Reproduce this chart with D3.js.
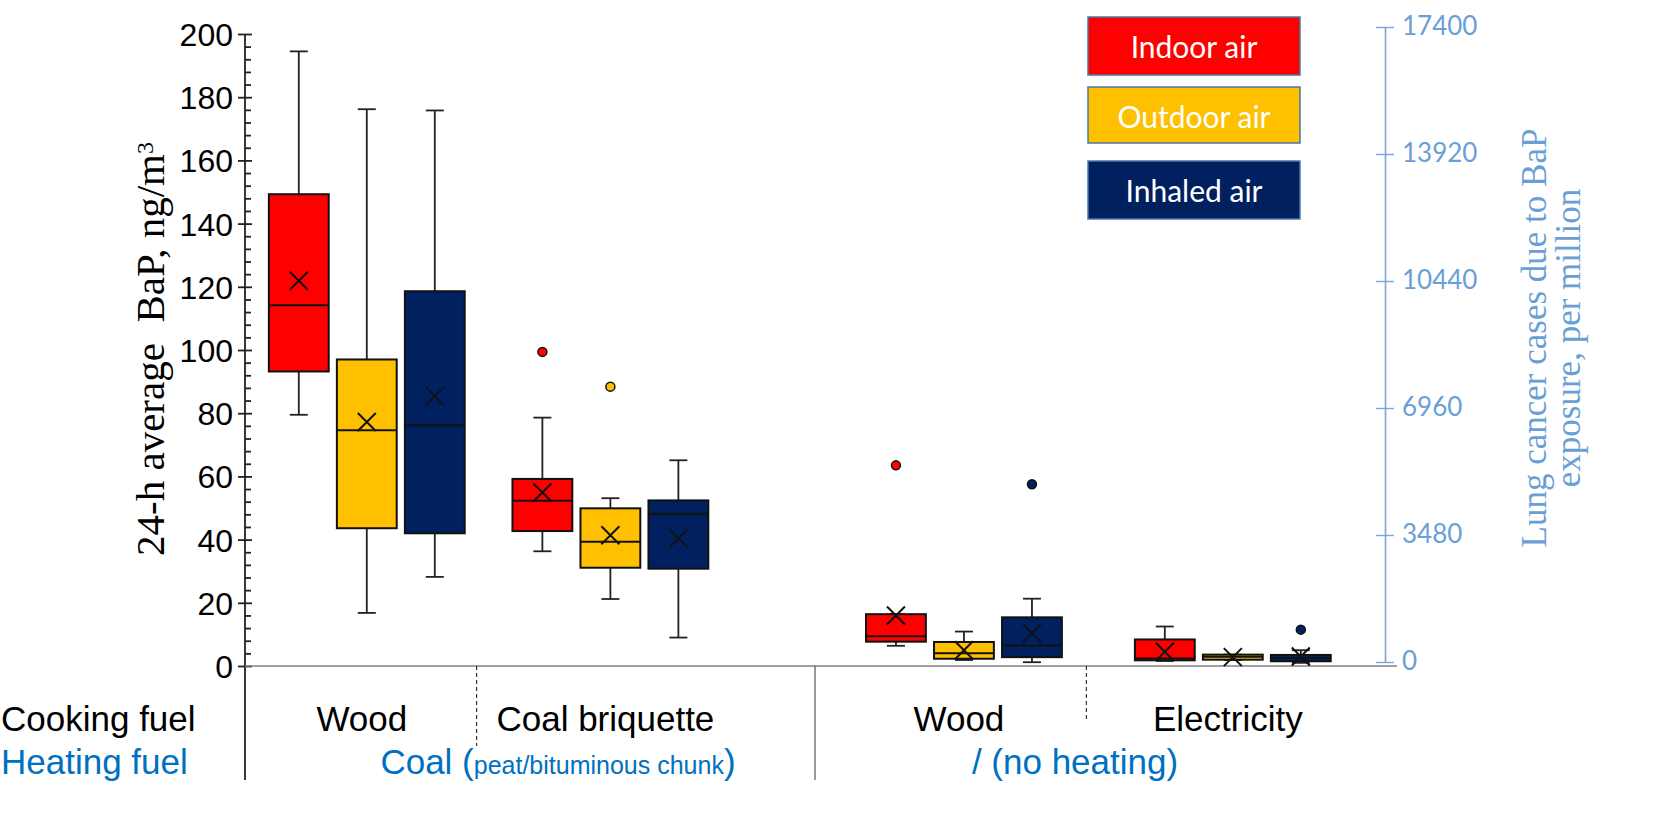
<!DOCTYPE html>
<html>
<head>
<meta charset="utf-8">
<script src="https://cdn.jsdelivr.net/npm/d3@7/dist/d3.min.js"></script>
<style>
  body { margin: 0; background: #fff; }
  svg { display: block; }
  .sans { font-family: "Liberation Sans", Arial, sans-serif; }
  .serif { font-family: "Liberation Serif", "Times New Roman", serif; }
  .cal { font-family: Lato, "Open Sans", sans-serif; }
</style>
</head>
<body>
<svg id="chart"></svg>
<script>
// ---- data ----
const heatingFuels = ["Coal", "None"];
const heatingLabels = ["Coal", "/ (no heating)"];
const cookingFuels = [["Wood", "Coal briquette"], ["Wood", "Electricity"]];
const series = ["Indoor air", "Outdoor air", "Inhaled air"];
const seriesColors = ["#ff0000", "#ffc000", "#002060"];

// one entry per box: [heating, cooking] x series, in order
const boxGroups = ["Coal|Wood", "Coal|Wood", "Coal|Wood",
  "Coal|Coal briquette", "Coal|Coal briquette", "Coal|Coal briquette",
  "None|Wood", "None|Wood", "None|Wood",
  "None|Electricity", "None|Electricity", "None|Electricity"];
const lowWhisker  = [79.5, 16.8, 28.2, 36.3, 21.2, 9.0, 6.4, 1.9, 1.2, 1.6, 1.9, 1.0];
const q1Values    = [93.2, 43.6, 42.0, 42.7, 31.1, 30.8, 7.7, 2.3, 2.8, 1.8, 2.0, 1.5];
const medianVals  = [114.2, 74.6, 76.2, 52.3, 39.3, 48.2, 9.4, 4.0, 6.5, 2.4, 2.9, 2.5];
const q3Values    = [149.3, 97.0, 118.6, 59.2, 49.9, 52.4, 16.4, 7.6, 15.4, 8.4, 3.6, 3.5];
const highWhisker = [194.5, 176.2, 175.8, 78.6, 53.1, 65.1, 16.4, 10.9, 21.3, 12.5, 3.6, 5.0];
const meanValues  = [121.9, 77.2, 85.4, 54.9, 41.4, 40.4, 16.0, 5.0, 10.4, 4.5, 2.8, 3.0];
const outliers    = [[], [], [], [99.4], [88.4], [], [63.5], [], [57.5], [], [], [11.5]];

const leftTicks = [0, 20, 40, 60, 80, 100, 120, 140, 160, 180, 200];
const rightTicks = [0, 3480, 6960, 10440, 13920, 17400];

class BoxChart {
  constructor(_config) {
    this.config = {
      parentElement: _config.parentElement,
      containerWidth: _config.containerWidth || 1654,
      containerHeight: _config.containerHeight || 824,
      margin: _config.margin || {top: 34, right: 269, bottom: 158, left: 245},
      // the two halves are not laid out quite alike in the original
      cookPadding: [0.17, 0.06],
      cookAlign: [0, 0.45]
    };
    this.data = boxGroups.map((g, i) => ({
      heating: g.split("|")[0],
      cooking: g.split("|")[1],
      series: series[i % 3],
      color: seriesColors[i % 3],
      lo: lowWhisker[i], q1: q1Values[i], med: medianVals[i],
      q3: q3Values[i], hi: highWhisker[i], mean: meanValues[i],
      out: outliers[i]
    }));
    this.initVis();
  }

  initVis() {
    let vis = this;
    vis.width = vis.config.containerWidth - vis.config.margin.left - vis.config.margin.right;
    vis.height = vis.config.containerHeight - vis.config.margin.top - vis.config.margin.bottom;

    vis.svg = d3.select(vis.config.parentElement)
      .attr("width", vis.config.containerWidth)
      .attr("height", vis.config.containerHeight);

    vis.chart = vis.svg.append("g")
      .attr("transform", `translate(${vis.config.margin.left},${vis.config.margin.top})`);

    vis.yScale = d3.scaleLinear().domain([0, 200]).range([vis.height, 0]);
    vis.yRight = d3.scaleLinear().domain([0, 17400]).range([vis.height - 4, -7]);

    // heating halves -> cooking bands -> series
    vis.xHeat = d3.scaleBand().domain(heatingFuels).range([0, vis.width]);
    vis.xCook = d3.scaleBand().range([0, vis.xHeat.bandwidth()]);
    vis.xSeries = d3.scaleBand().domain(series).range([-102, 102])
      .paddingInner(0.12).paddingOuter(0.06);

    vis.renderVis();
  }

  setHalf(hi) {
    let vis = this;
    vis.xCook.domain(cookingFuels[hi])
      .paddingOuter(vis.config.cookPadding[hi])
      .align(vis.config.cookAlign[hi]);
  }

  groupCenter(heating, cooking) {
    let vis = this;
    vis.setHalf(heatingFuels.indexOf(heating));
    return vis.xHeat(heating) + vis.xCook(cooking) + vis.xCook.bandwidth() / 2;
  }

  renderVis() {
    let vis = this;
    const h = vis.height;

    // left axis with minor ticks
    let minor = d3.range(0, 201, 4).filter(v => v % 20 != 0);
    let minorG = vis.chart.append("g").call(d3.axisRight(vis.yScale)
      .tickValues(minor).tickSize(6).tickFormat(""));
    minorG.select(".domain").remove();
    minorG.selectAll("line").attr("stroke", "#222").attr("stroke-width", 1.8);

    let yAxisG = vis.chart.append("g").call(d3.axisLeft(vis.yScale)
      .tickValues(leftTicks).tickSize(7).tickPadding(5).tickSizeOuter(0));
    yAxisG.select(".domain").remove();
    yAxisG.selectAll(".tick line").attr("x2", 7).attr("x1", -7)
      .attr("stroke", "#222").attr("stroke-width", 1.8);
    yAxisG.selectAll("text").attr("class", "sans").style("font-size", "32px")
      .attr("fill", "#000").attr("dy", "0.36em");

    // vertical axis line going down past baseline
    vis.chart.append("line")
      .attr("x1", 0).attr("x2", 0).attr("y1", 0).attr("y2", h + 114)
      .attr("stroke", "#222").attr("stroke-width", 1.8);

    // baseline
    vis.chart.append("line")
      .attr("x1", 0).attr("x2", vis.width + 12)
      .attr("y1", vis.yScale(0)).attr("y2", vis.yScale(0))
      .attr("stroke", "#808080").attr("stroke-width", 1.6);

    // right axis
    let rAxisG = vis.chart.append("g")
      .attr("transform", `translate(${vis.width},0)`)
      .call(d3.axisRight(vis.yRight).tickValues(rightTicks).tickFormat(d3.format("d"))
        .tickSize(9).tickPadding(8).tickSizeOuter(0));
    rAxisG.select(".domain").attr("stroke", "#7aa6d8").attr("stroke-width", 1.6);
    rAxisG.selectAll(".tick line").attr("x1", -9).attr("stroke", "#7aa6d8").attr("stroke-width", 1.4);
    rAxisG.selectAll("text").attr("class", "cal").style("font-size", "26px")
      .attr("fill", "#6a9fd6").attr("dy", "0.3em");

    // category separators and labels
    heatingFuels.forEach((hf, hi) => {
      let x0 = vis.xHeat(hf);
      if (hi > 0) {
        vis.chart.append("line")
          .attr("x1", x0).attr("x2", x0).attr("y1", h).attr("y2", h + 114)
          .attr("stroke", "#555").attr("stroke-width", 1.2);
      }
      vis.setHalf(hi);
      let xb = x0 + vis.xCook(cookingFuels[hi][1]) - 12;
      vis.chart.append("line")
        .attr("x1", xb).attr("x2", xb).attr("y1", h).attr("y2", h + (hi == 0 ? 80 : 54))
        .attr("stroke", "#333").attr("stroke-width", 1.2).attr("stroke-dasharray", "4,3");

      cookingFuels[hi].forEach(cf => {
        vis.chart.append("text")
          .attr("class", "sans")
          .attr("x", vis.groupCenter(hf, cf) - 5).attr("y", h + 65)
          .attr("text-anchor", "middle")
          .style("font-size", "35px").attr("fill", "#000")
          .text(cf);
      });

      let ht = vis.chart.append("text")
        .attr("class", "sans")
        .attr("x", x0 + vis.xHeat.bandwidth() / 2 + (hi == 0 ? 28 : -25)).attr("y", h + 108)
        .attr("text-anchor", "middle")
        .style("font-size", "35px").attr("fill", "#0070c0");
      if (hi == 0) {
        ht.append("tspan").text("Coal (");
        ht.append("tspan").style("font-size", "25px").text("peat/bituminous chunk");
        ht.append("tspan").text(")");
      } else {
        ht.text(heatingLabels[hi]);
      }
    });

    vis.svg.append("text").attr("class", "sans")
      .attr("x", 1).attr("y", h + vis.config.margin.top + 65)
      .style("font-size", "35px").attr("fill", "#000").text("Cooking fuel");
    vis.svg.append("text").attr("class", "sans")
      .attr("x", 1).attr("y", h + vis.config.margin.top + 108)
      .style("font-size", "35px").attr("fill", "#0070c0").text("Heating fuel");

    // boxes
    let boxes = vis.chart.selectAll(".box")
      .data(vis.data)
      .join("g")
      .attr("class", "box")
      .attr("transform", d => `translate(${vis.groupCenter(d.heating, d.cooking) + vis.xSeries(d.series) + vis.xSeries.bandwidth() / 2},0)`);

    const bw = vis.xSeries.bandwidth();
    const capW = 9;

    boxes.append("line")
      .attr("y1", d => vis.yScale(d.hi)).attr("y2", d => vis.yScale(d.lo))
      .attr("stroke", "#222").attr("stroke-width", 1.8);
    boxes.append("line").attr("x1", -capW).attr("x2", capW)
      .attr("y1", d => vis.yScale(d.hi)).attr("y2", d => vis.yScale(d.hi))
      .attr("stroke", "#222").attr("stroke-width", 1.8);
    boxes.append("line").attr("x1", -capW).attr("x2", capW)
      .attr("y1", d => vis.yScale(d.lo)).attr("y2", d => vis.yScale(d.lo))
      .attr("stroke", "#222").attr("stroke-width", 1.8);

    boxes.append("rect")
      .attr("x", -bw / 2).attr("width", bw)
      .attr("y", d => vis.yScale(d.q3))
      .attr("height", d => vis.yScale(d.q1) - vis.yScale(d.q3))
      .attr("fill", d => d.color)
      .attr("stroke", "#111").attr("stroke-width", 2);

    boxes.append("line").attr("x1", -bw / 2).attr("x2", bw / 2)
      .attr("y1", d => vis.yScale(d.med)).attr("y2", d => vis.yScale(d.med))
      .attr("stroke", "#111").attr("stroke-width", 2);

    const m = 9;
    boxes.append("path")
      .attr("d", d => {
        let y = vis.yScale(d.mean);
        return `M${-m},${y - m}L${m},${y + m}M${-m},${y + m}L${m},${y - m}`;
      })
      .attr("stroke", "#111").attr("stroke-width", 2).attr("fill", "none");

    boxes.selectAll(".outlier")
      .data(d => d.out.map(v => ({v: v, color: d.color})))
      .join("circle")
      .attr("class", "outlier")
      .attr("cy", d => vis.yScale(d.v)).attr("r", 4.5)
      .attr("fill", d => d.color)
      .attr("stroke", "#111").attr("stroke-width", 1.5);

    // legend
    let legend = vis.svg.append("g").attr("transform", "translate(1088,17)");
    let legendY = d3.scalePoint().domain(series).range([0, 144]);
    let lg = legend.selectAll("g").data(series).join("g")
      .attr("transform", (d, i) => `translate(0,${legendY(d) - (i == 1 ? 2 : 0)})`);
    lg.append("rect")
      .attr("width", 212).attr("height", (d, i) => i == 1 ? 56 : 58)
      .attr("fill", (d, i) => seriesColors[i])
      .attr("stroke", "#4a78a8").attr("stroke-width", 1.5);
    lg.append("text").attr("class", "cal")
      .attr("x", 106).attr("y", 30).attr("dy", "0.35em")
      .attr("text-anchor", "middle")
      .style("font-size", "30px").attr("fill", "#fff")
      .text(d => d);

    // axis titles
    let lt = vis.svg.append("text").attr("class", "serif")
      .attr("transform", `translate(164,${vis.config.margin.top + 315}) rotate(-90)`)
      .attr("text-anchor", "middle")
      .style("font-size", "41px").attr("fill", "#000");
    lt.append("tspan").text("24-h average  BaP, ng/m");
    lt.append("tspan").attr("dy", "-0.45em").style("font-size", "24px").text("3");
    lt.attr("xml:space", "preserve");

    let rt = vis.svg.append("text").attr("class", "serif")
      .attr("transform", `translate(1546,${vis.config.margin.top + 304}) rotate(-90)`)
      .attr("text-anchor", "middle")
      .style("font-size", "35px").attr("fill", "#6a9fd6");
    rt.append("tspan").attr("x", 0).attr("y", 0).text("Lung cancer cases due to BaP");
    rt.append("tspan").attr("x", 0).attr("y", 34).text("exposure, per million");
  }
}

new BoxChart({parentElement: "#chart"});
</script>
</body>
</html>
